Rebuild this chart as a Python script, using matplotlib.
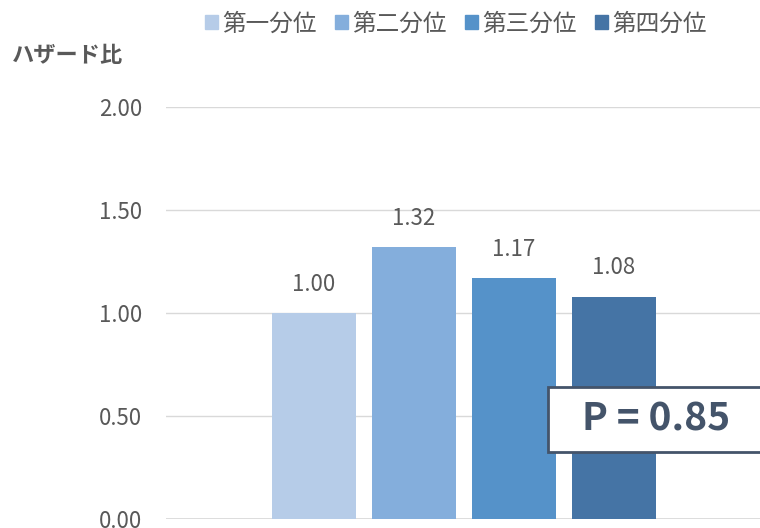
import matplotlib
matplotlib.use("Agg")
import matplotlib.pyplot as plt
from matplotlib.patches import Rectangle

plt.rcParams['font.family'] = ['Noto Sans CJK JP', 'DejaVu Sans']

# Data
quartiles = ["第一分位", "第二分位", "第三分位", "第四分位"]
hazard_ratios = [1.00, 1.32, 1.17, 1.08]
colors = ["#B6CCE8", "#84AEDC", "#5592C9", "#4574A5"]
y_ticks = [0.00, 0.50, 1.00, 1.50, 2.00]
p_text = "P = 0.85"
y_title = "ハザード比"

W, H = 760, 528
fig = plt.figure(figsize=(W / 100, H / 100), dpi=100)

# Plot area in pixel terms (extends slightly beyond the right edge)
left_px, right_px = 166, 763
zero_px, top_px = 519, 107
ax = fig.add_axes([left_px / W, (H - zero_px) / H,
                   (right_px - left_px) / W, (zero_px - top_px) / H])

xpos = list(range(len(quartiles)))
ax.bar(xpos, hazard_ratios, width=0.84, color=colors, zorder=2)
ax.set_xlim(-1.48, 4.49)
ax.set_ylim(0, 2.0)
ax.set_yticks(y_ticks)
ax.set_yticklabels([f"{v:.2f}" for v in y_ticks], color="#595959", fontsize=16)
ax.tick_params(axis="y", length=0, pad=17)
ax.set_xticks([])
for s in ax.spines.values():
    s.set_visible(False)
ax.grid(axis="y", color="#D9D9D9", linewidth=1, zorder=0)
ax.axhline(0, color="#D9D9D9", linewidth=1.2, zorder=1)

# Value labels above each bar
for x, v in zip(xpos, hazard_ratios):
    ax.annotate(f"{v:.2f}", (x, v), xytext=(0, 16), textcoords="offset points",
                ha="center", va="baseline", fontsize=16, color="#595959")

# Legend
handles = [Rectangle((0, 0), 1, 1, color=c) for c in colors]
fig.legend(handles, quartiles, loc="upper center", ncol=4,
           bbox_to_anchor=(456 / W, 1 - 3 / H), frameon=False,
           fontsize=17, labelcolor="#595959", handlelength=0.55,
           handleheight=0.55, handletextpad=0.2, columnspacing=0.75,
           borderaxespad=0)

# Axis title
fig.text(12 / W, 1 - 55 / H, y_title, fontsize=16, fontweight="bold",
         color="#595959", ha="left", va="center")

# P-value box
box = Rectangle((548 / W, 1 - 452 / H), 260 / W, 65 / H,
                transform=fig.transFigure, facecolor="white",
                edgecolor="#44546A", linewidth=2, zorder=5)
fig.patches.append(box)
fig.text(656 / W, 1 - 419 / H, p_text, fontsize=28, fontweight="bold",
         color="#44546A", ha="center", va="center", zorder=6)

fig.savefig("out.png", dpi=100)
